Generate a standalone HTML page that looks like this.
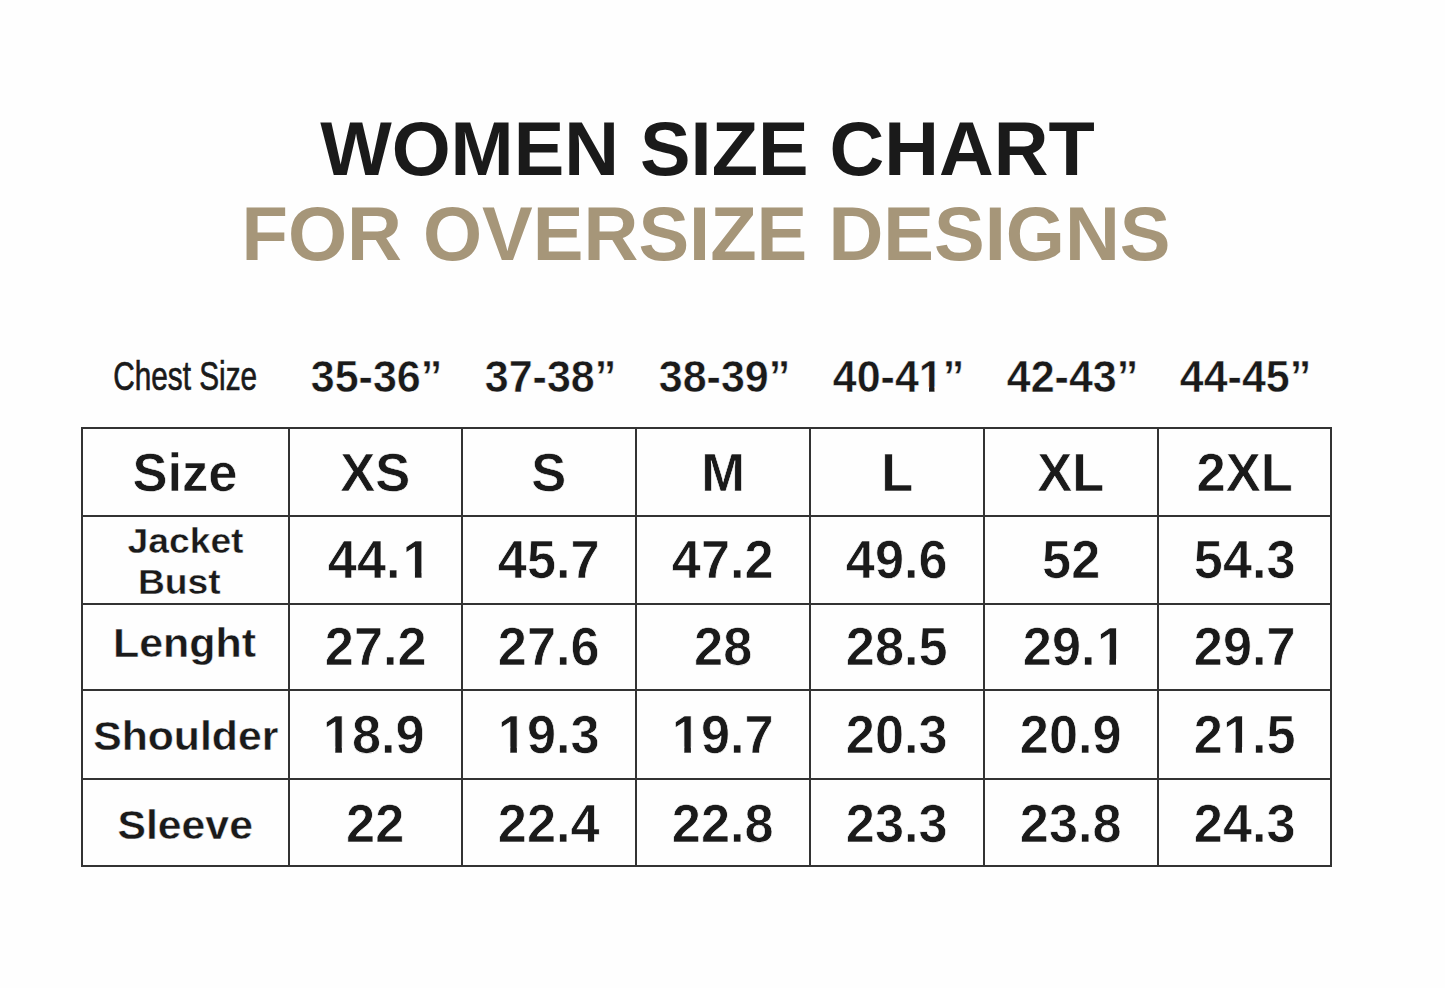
<!DOCTYPE html><html><head><meta charset="utf-8"><style>
html,body{margin:0;padding:0;background:#fefefe;}
body{width:1445px;height:988px;position:relative;overflow:hidden;font-family:"Liberation Sans",sans-serif;}
.t{position:absolute;width:1400px;text-align:center;white-space:nowrap;line-height:1;}
.t span{display:inline-block;}
.t span.one{clip-path:polygon(0 0,100% 0,100% 72%,65.4% 72%,65.4% 100%,42.9% 100%,42.9% 72%,0 72%);}
.h{position:absolute;background:#333333;}
.v{position:absolute;background:#333333;}
</style></head><body>
<div class="t" style="left:7.00px;top:111.17px;font-size:76px;font-weight:700;color:#1a1a1a;"><span style="transform:scaleX(0.997);">WOMEN SIZE CHART</span></div>
<div class="t" style="left:6.00px;top:196.17px;font-size:76px;font-weight:700;color:#a69679;"><span style="">FOR OVERSIZE DESIGNS</span></div>
<div class="t" style="left:-514.50px;top:356.97px;font-size:40.2px;font-weight:400;color:#1a1a1a;"><span style="transform:scaleX(0.74);-webkit-text-stroke:0.7px #1a1a1a;">Chest Size</span></div>
<div class="t" style="left:-323.50px;top:354.28px;font-size:44.8px;font-weight:700;color:#1a1a1a;"><span style="transform:scaleX(0.96);-webkit-text-stroke:0.5px #fefefe;">35-36”</span></div>
<div class="t" style="left:-150.00px;top:354.28px;font-size:44.8px;font-weight:700;color:#1a1a1a;"><span style="transform:scaleX(0.96);-webkit-text-stroke:0.5px #fefefe;">37-38”</span></div>
<div class="t" style="left:24.00px;top:354.28px;font-size:44.8px;font-weight:700;color:#1a1a1a;"><span style="transform:scaleX(0.96);-webkit-text-stroke:0.5px #fefefe;">38-39”</span></div>
<div class="t" style="left:198.00px;top:354.28px;font-size:44.8px;font-weight:700;color:#1a1a1a;"><span style="transform:scaleX(0.96);-webkit-text-stroke:0.5px #fefefe;">40-4<span class="one">1</span>”</span></div>
<div class="t" style="left:372.00px;top:354.28px;font-size:44.8px;font-weight:700;color:#1a1a1a;"><span style="transform:scaleX(0.96);-webkit-text-stroke:0.5px #fefefe;">42-43”</span></div>
<div class="t" style="left:545.50px;top:354.28px;font-size:44.8px;font-weight:700;color:#1a1a1a;"><span style="transform:scaleX(0.96);-webkit-text-stroke:0.5px #fefefe;">44-45”</span></div>
<div class="t" style="left:-514.50px;top:446.14px;font-size:53px;font-weight:700;color:#1a1a1a;"><span style="transform:scaleX(0.99);-webkit-text-stroke:0.6px #fefefe;">Size</span></div>
<div class="t" style="left:-324.50px;top:446.14px;font-size:53px;font-weight:700;color:#1a1a1a;"><span style="transform:scaleX(0.99);-webkit-text-stroke:0.6px #fefefe;">XS</span></div>
<div class="t" style="left:-151.00px;top:446.14px;font-size:53px;font-weight:700;color:#1a1a1a;"><span style="transform:scaleX(0.99);-webkit-text-stroke:0.6px #fefefe;">S</span></div>
<div class="t" style="left:23.00px;top:446.14px;font-size:53px;font-weight:700;color:#1a1a1a;"><span style="transform:scaleX(0.99);-webkit-text-stroke:0.6px #fefefe;">M</span></div>
<div class="t" style="left:197.00px;top:446.14px;font-size:53px;font-weight:700;color:#1a1a1a;"><span style="transform:scaleX(0.99);-webkit-text-stroke:0.6px #fefefe;">L</span></div>
<div class="t" style="left:371.00px;top:446.14px;font-size:53px;font-weight:700;color:#1a1a1a;"><span style="transform:scaleX(0.99);-webkit-text-stroke:0.6px #fefefe;">XL</span></div>
<div class="t" style="left:544.50px;top:446.14px;font-size:53px;font-weight:700;color:#1a1a1a;"><span style="transform:scaleX(0.99);-webkit-text-stroke:0.6px #fefefe;">2XL</span></div>
<div class="t" style="left:-515.00px;top:523.07px;font-size:35px;font-weight:700;color:#1a1a1a;"><span style="transform:scaleX(1.065);-webkit-text-stroke:0.4px #fefefe;">Jacket</span></div>
<div class="t" style="left:-520.50px;top:564.50px;font-size:34.5px;font-weight:700;color:#1a1a1a;"><span style="transform:scaleX(1.08);-webkit-text-stroke:0.4px #fefefe;">Bust</span></div>
<div class="t" style="left:-321.30px;top:532.22px;font-size:54.2px;font-weight:700;color:#1a1a1a;"><span style="transform:scaleX(0.965);-webkit-text-stroke:0.7px #fefefe;">44.<span class="one" style="position:relative;left:2px">1</span></span></div>
<div class="t" style="left:-151.00px;top:532.22px;font-size:54.2px;font-weight:700;color:#1a1a1a;"><span style="transform:scaleX(0.965);-webkit-text-stroke:0.7px #fefefe;">45.7</span></div>
<div class="t" style="left:23.00px;top:532.22px;font-size:54.2px;font-weight:700;color:#1a1a1a;"><span style="transform:scaleX(0.965);-webkit-text-stroke:0.7px #fefefe;">47.2</span></div>
<div class="t" style="left:197.00px;top:532.22px;font-size:54.2px;font-weight:700;color:#1a1a1a;"><span style="transform:scaleX(0.965);-webkit-text-stroke:0.7px #fefefe;">49.6</span></div>
<div class="t" style="left:371.00px;top:532.22px;font-size:54.2px;font-weight:700;color:#1a1a1a;"><span style="transform:scaleX(0.965);-webkit-text-stroke:0.7px #fefefe;">52</span></div>
<div class="t" style="left:544.50px;top:532.22px;font-size:54.2px;font-weight:700;color:#1a1a1a;"><span style="transform:scaleX(0.965);-webkit-text-stroke:0.7px #fefefe;">54.3</span></div>
<div class="t" style="left:-515.50px;top:622.72px;font-size:40.5px;font-weight:700;color:#1a1a1a;"><span style="transform:scaleX(1.06);-webkit-text-stroke:0.4px #fefefe;">Lenght</span></div>
<div class="t" style="left:-324.50px;top:619.22px;font-size:54.2px;font-weight:700;color:#1a1a1a;"><span style="transform:scaleX(0.965);-webkit-text-stroke:0.7px #fefefe;">27.2</span></div>
<div class="t" style="left:-151.00px;top:619.22px;font-size:54.2px;font-weight:700;color:#1a1a1a;"><span style="transform:scaleX(0.965);-webkit-text-stroke:0.7px #fefefe;">27.6</span></div>
<div class="t" style="left:23.00px;top:619.22px;font-size:54.2px;font-weight:700;color:#1a1a1a;"><span style="transform:scaleX(0.965);-webkit-text-stroke:0.7px #fefefe;">28</span></div>
<div class="t" style="left:197.00px;top:619.22px;font-size:54.2px;font-weight:700;color:#1a1a1a;"><span style="transform:scaleX(0.965);-webkit-text-stroke:0.7px #fefefe;">28.5</span></div>
<div class="t" style="left:374.20px;top:619.22px;font-size:54.2px;font-weight:700;color:#1a1a1a;"><span style="transform:scaleX(0.965);-webkit-text-stroke:0.7px #fefefe;">29.<span class="one" style="position:relative;left:1.5px">1</span></span></div>
<div class="t" style="left:544.50px;top:619.22px;font-size:54.2px;font-weight:700;color:#1a1a1a;"><span style="transform:scaleX(0.965);-webkit-text-stroke:0.7px #fefefe;">29.7</span></div>
<div class="t" style="left:-514.50px;top:715.72px;font-size:40.5px;font-weight:700;color:#1a1a1a;"><span style="transform:scaleX(1.055);-webkit-text-stroke:0.4px #fefefe;">Shoulder</span></div>
<div class="t" style="left:-326.50px;top:707.42px;font-size:54.2px;font-weight:700;color:#1a1a1a;"><span style="transform:scaleX(0.965);-webkit-text-stroke:0.7px #fefefe;"><span class="one">1</span>8.9</span></div>
<div class="t" style="left:-151.00px;top:707.42px;font-size:54.2px;font-weight:700;color:#1a1a1a;"><span style="transform:scaleX(0.965);-webkit-text-stroke:0.7px #fefefe;"><span class="one">1</span>9.3</span></div>
<div class="t" style="left:23.00px;top:707.42px;font-size:54.2px;font-weight:700;color:#1a1a1a;"><span style="transform:scaleX(0.965);-webkit-text-stroke:0.7px #fefefe;"><span class="one">1</span>9.7</span></div>
<div class="t" style="left:197.00px;top:707.42px;font-size:54.2px;font-weight:700;color:#1a1a1a;"><span style="transform:scaleX(0.965);-webkit-text-stroke:0.7px #fefefe;">20.3</span></div>
<div class="t" style="left:371.00px;top:707.42px;font-size:54.2px;font-weight:700;color:#1a1a1a;"><span style="transform:scaleX(0.965);-webkit-text-stroke:0.7px #fefefe;">20.9</span></div>
<div class="t" style="left:544.50px;top:707.42px;font-size:54.2px;font-weight:700;color:#1a1a1a;"><span style="transform:scaleX(0.965);-webkit-text-stroke:0.7px #fefefe;">2<span class="one">1</span>.5</span></div>
<div class="t" style="left:-514.50px;top:804.72px;font-size:40.5px;font-weight:700;color:#1a1a1a;"><span style="transform:scaleX(1.055);-webkit-text-stroke:0.4px #fefefe;">Sleeve</span></div>
<div class="t" style="left:-324.50px;top:795.92px;font-size:54.2px;font-weight:700;color:#1a1a1a;"><span style="transform:scaleX(0.965);-webkit-text-stroke:0.7px #fefefe;">22</span></div>
<div class="t" style="left:-151.00px;top:795.92px;font-size:54.2px;font-weight:700;color:#1a1a1a;"><span style="transform:scaleX(0.965);-webkit-text-stroke:0.7px #fefefe;">22.4</span></div>
<div class="t" style="left:23.00px;top:795.92px;font-size:54.2px;font-weight:700;color:#1a1a1a;"><span style="transform:scaleX(0.965);-webkit-text-stroke:0.7px #fefefe;">22.8</span></div>
<div class="t" style="left:197.00px;top:795.92px;font-size:54.2px;font-weight:700;color:#1a1a1a;"><span style="transform:scaleX(0.965);-webkit-text-stroke:0.7px #fefefe;">23.3</span></div>
<div class="t" style="left:371.00px;top:795.92px;font-size:54.2px;font-weight:700;color:#1a1a1a;"><span style="transform:scaleX(0.965);-webkit-text-stroke:0.7px #fefefe;">23.8</span></div>
<div class="t" style="left:544.50px;top:795.92px;font-size:54.2px;font-weight:700;color:#1a1a1a;"><span style="transform:scaleX(0.965);-webkit-text-stroke:0.7px #fefefe;">24.3</span></div>
<div class="h" style="left:81.00px;width:1251.00px;top:427.00px;height:2px"></div>
<div class="h" style="left:81.00px;width:1251.00px;top:515.00px;height:2px"></div>
<div class="h" style="left:81.00px;width:1251.00px;top:602.50px;height:2px"></div>
<div class="h" style="left:81.00px;width:1251.00px;top:689.20px;height:2px"></div>
<div class="h" style="left:81.00px;width:1251.00px;top:778.00px;height:2px"></div>
<div class="h" style="left:81.00px;width:1251.00px;top:865.40px;height:2px"></div>
<div class="v" style="top:427.00px;height:440.40px;left:81.00px;width:2px"></div>
<div class="v" style="top:427.00px;height:440.40px;left:288.00px;width:2px"></div>
<div class="v" style="top:427.00px;height:440.40px;left:461.00px;width:2px"></div>
<div class="v" style="top:427.00px;height:440.40px;left:635.00px;width:2px"></div>
<div class="v" style="top:427.00px;height:440.40px;left:809.00px;width:2px"></div>
<div class="v" style="top:427.00px;height:440.40px;left:983.00px;width:2px"></div>
<div class="v" style="top:427.00px;height:440.40px;left:1157.00px;width:2px"></div>
<div class="v" style="top:427.00px;height:440.40px;left:1330.00px;width:2px"></div>
</body></html>
